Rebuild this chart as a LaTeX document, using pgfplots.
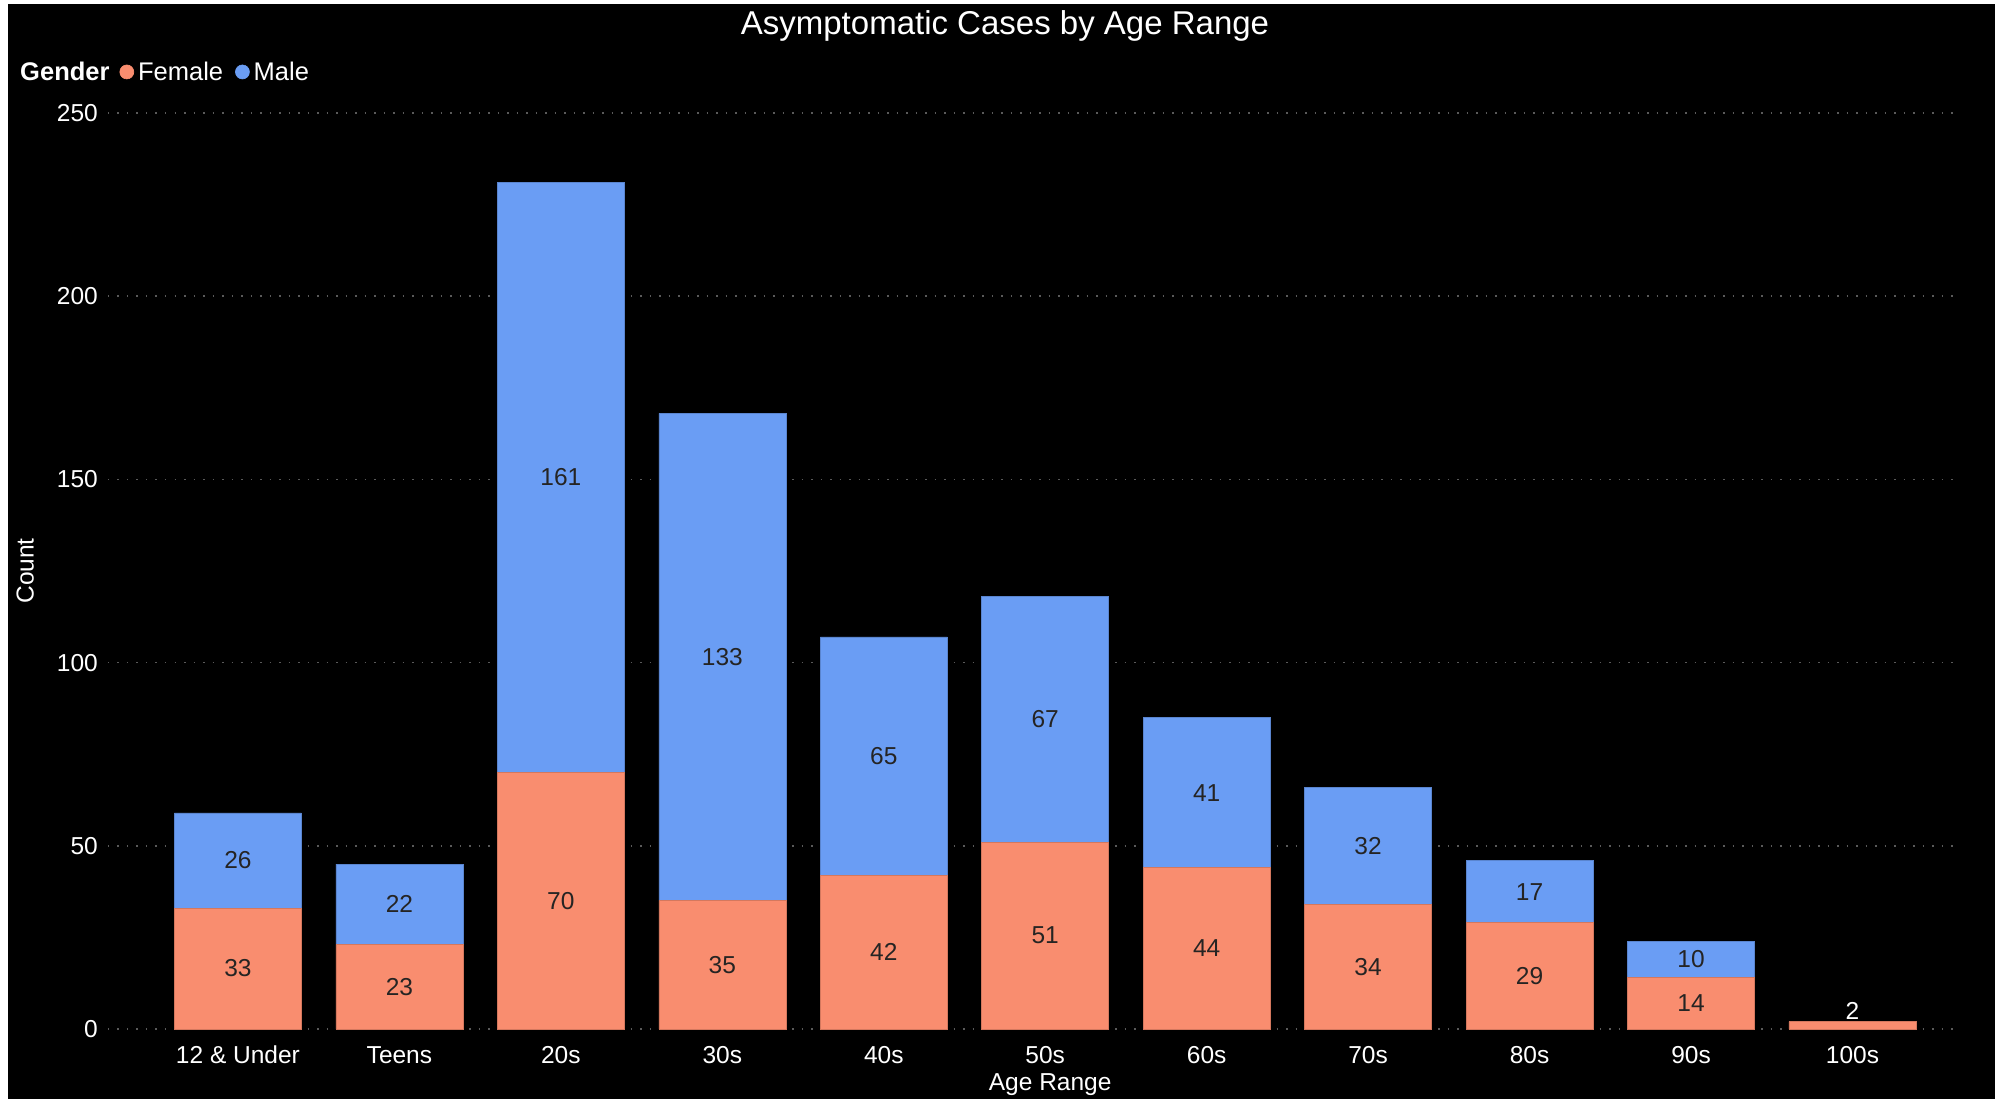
\documentclass[border=0pt]{standalone}
\usepackage{pgfplots}
\pgfplotsset{compat=1.18}
\usepackage{fontspec}
\setmainfont{Liberation Sans}
\definecolor{female}{HTML}{F98D6F}
\definecolor{male}{HTML}{6A9DF4}
\definecolor{lbl}{HTML}{252423}
\definecolor{gridc}{HTML}{5A5A5A}

\pgfplotstableread{
x f m
0 33 26
1 23 22
2 70 161
3 35 133
4 42 65
5 51 67
6 44 41
7 34 32
8 29 17
9 14 10
10 2 0
}\datatable

\pgfplotstableread{
x y l
0 16.5 33
1 11.5 23
2 35 70
3 17.5 35
4 21 42
5 25.5 51
6 22 44
7 17 34
8 14.5 29
9 7 14
0 46 26
1 34 22
2 150.5 161
3 101.5 133
4 74.5 65
5 84.5 67
6 64.5 41
7 50 32
8 37.5 17
9 19 10
}\labeltable

\pgfplotstableread{
x y l
10 2 2
}\toptable

\begin{document}
\begin{tikzpicture}[x=1pt,y=1pt]
\useasboundingbox (0,0) rectangle (1995,1101);
\fill[white] (0,0) rectangle (1995,1101);
\fill[black] (8,2) rectangle (1995,1097);
\begin{axis}[
  at={(108pt,72pt)}, anchor=south west,
  width=1851pt, height=916pt, scale only axis,
  xmin=-0.805, xmax=10.66, ymin=0, ymax=250,
  ybar stacked, bar width=127pt,
  axis line style={draw=none},
  tick style={draw=none},
  ymajorgrids, grid style={gridc, line width=1.5pt, dash pattern=on 1.5pt off 8pt},
  ytick={0,50,...,250},
  xtick={0,...,10},
  xticklabels={12 \& Under, Teens, 20s, 30s, 40s, 50s, 60s, 70s, 80s, 90s, 100s},
  ticklabel style={font=\fontsize{24.5}{29}\selectfont, text=white},
  /pgf/number format/assume math mode=true,
  yticklabel style={anchor=east, inner sep=0pt, xshift=-10pt},
  xticklabel style={anchor=north, inner sep=0pt, yshift=-17pt},
  title={Asymptomatic Cases by Age Range},
  title style={at={(0.4846,1.088)}, anchor=center, font=\fontsize{33}{38}\selectfont, text=white},
  ylabel={Count},
  ylabel style={at={(-0.0448,0.5)}, anchor=center, rotate=0, font=\fontsize{24.5}{29}\selectfont, text=white},
  xlabel={Age Range},
  xlabel style={at={(0.509,-0.061)}, anchor=center, font=\fontsize{24.5}{29}\selectfont, text=white},
  legend columns=-1,
  legend style={at={(-0.0486,1.0448)}, anchor=west, draw=none, fill=none, text=white,
    font=\fontsize{25.5}{30}\selectfont, inner sep=0pt,
    /tikz/every odd column/.append style={column sep=0pt}},
]
\addlegendimage{empty legend}
\addlegendentry{\textbf{Gender}\rule{8pt}{0pt}}
\addplot[fill=female, draw=female!85!black, line width=0.6pt,
  legend image code/.code={\fill[female] (6pt,0pt) circle (7pt);}]
  table[x=x, y=f] {\datatable};
\addlegendentry{\rule{2pt}{0pt}Female\rule{10pt}{0pt}}
\addplot[fill=male, draw=male!85!black, line width=0.6pt,
  legend image code/.code={\fill[male] (6pt,0pt) circle (7pt);}]
  table[x=x, y=m] {\datatable};
\addlegendentry{\rule{2pt}{0pt}Male}
\end{axis}
\begin{axis}[
  at={(108pt,72pt)}, anchor=south west,
  width=1851pt, height=916pt, scale only axis,
  xmin=-0.805, xmax=10.66, ymin=0, ymax=250,
  hide axis,
]
\addplot[draw=none, mark=none, nodes near coords, point meta=explicit symbolic,
  every node near coord/.style={anchor=center, font=\fontsize{24.5}{29}\selectfont, text=lbl}]
  table[x=x, y=y, meta=l] {\labeltable};
\addplot[draw=none, mark=none, nodes near coords, point meta=explicit symbolic,
  every node near coord/.style={anchor=south, font=\fontsize{24.5}{29}\selectfont, text=white, inner sep=2pt}]
  table[x=x, y=y, meta=l] {\toptable};
\end{axis}
\end{tikzpicture}
\end{document}
